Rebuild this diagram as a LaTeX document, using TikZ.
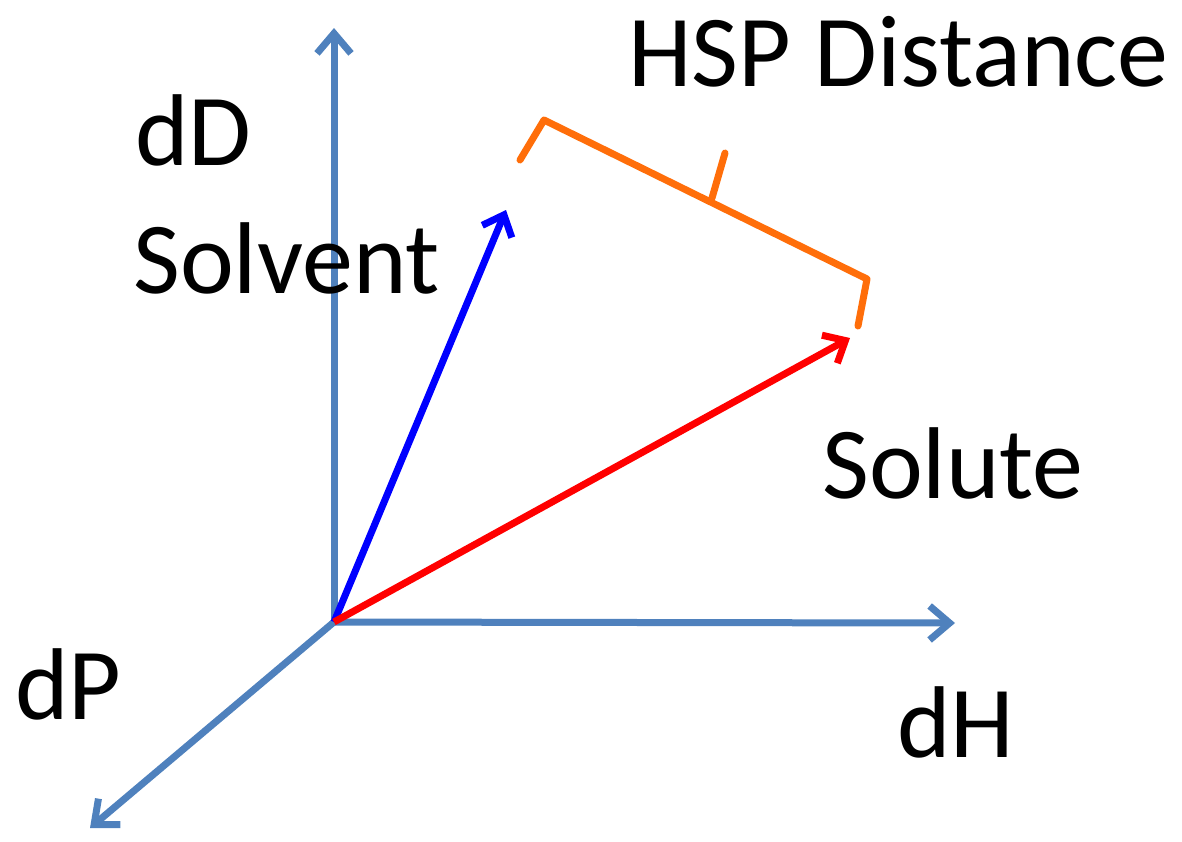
\documentclass[tikz,border=0pt]{standalone}
\usepackage{fontspec}
\setmainfont{Carlito}
\usetikzlibrary{arrows.meta}
\definecolor{axisblue}{RGB}{79,129,189}
\definecolor{hsporange}{RGB}{255,110,10}
\tikzset{
  axis/.style={draw=axisblue, line width=7pt, -{Straight Barb[length=20pt,width=34pt,line width=7pt]}},
  vec/.style={line width=7pt, -{Straight Barb[length=18pt,width=32pt,line width=7pt]}},
  lbl/.style={inner sep=0pt, anchor=base west, font=\fontsize{102}{110}\selectfont},
}
\begin{document}
\begin{tikzpicture}[x=1pt,y=-1pt]
\useasboundingbox (0,0) rectangle (1182,841);
\coordinate (O) at (334,622);
\coordinate (dDend) at (334,28);
\coordinate (dHend) at (955,623);
\coordinate (dPend) at (90,828);
\coordinate (solv) at (506,210);
\coordinate (solu) at (850,338);
\draw[axis] (O) -- (dDend);
\draw[axis] (O) -- (dHend);
\draw[axis] (O) -- (dPend);
\draw[vec, draw=blue] (O) -- (solv);
\draw[vec, draw=red] (O) -- (solu);
\coordinate (b1) at (520,160);
\coordinate (b2) at (544,120);
\coordinate (b3) at (867,279);
\coordinate (b4) at (858,326);
\coordinate (tb) at (712,198);
\coordinate (tt) at (725,153);
\draw[draw=hsporange, line width=7pt, line join=round, line cap=round] (b1) -- (b2) -- (b3) -- (b4);
\draw[draw=hsporange, line width=7pt, line cap=round] (tb) -- (tt);
\node[lbl] (hsp) at (628,86) {HSP Distance};
\node[lbl] (dD) at (135,165) {dD};
\node[lbl] (solvent) at (133,293) {Solvent};
\node[lbl] (solute) at (822,498) {Solute};
\node[lbl] (dP) at (15,719) {dP};
\node[lbl] (dH) at (897,757) {dH};
\end{tikzpicture}
\end{document}
